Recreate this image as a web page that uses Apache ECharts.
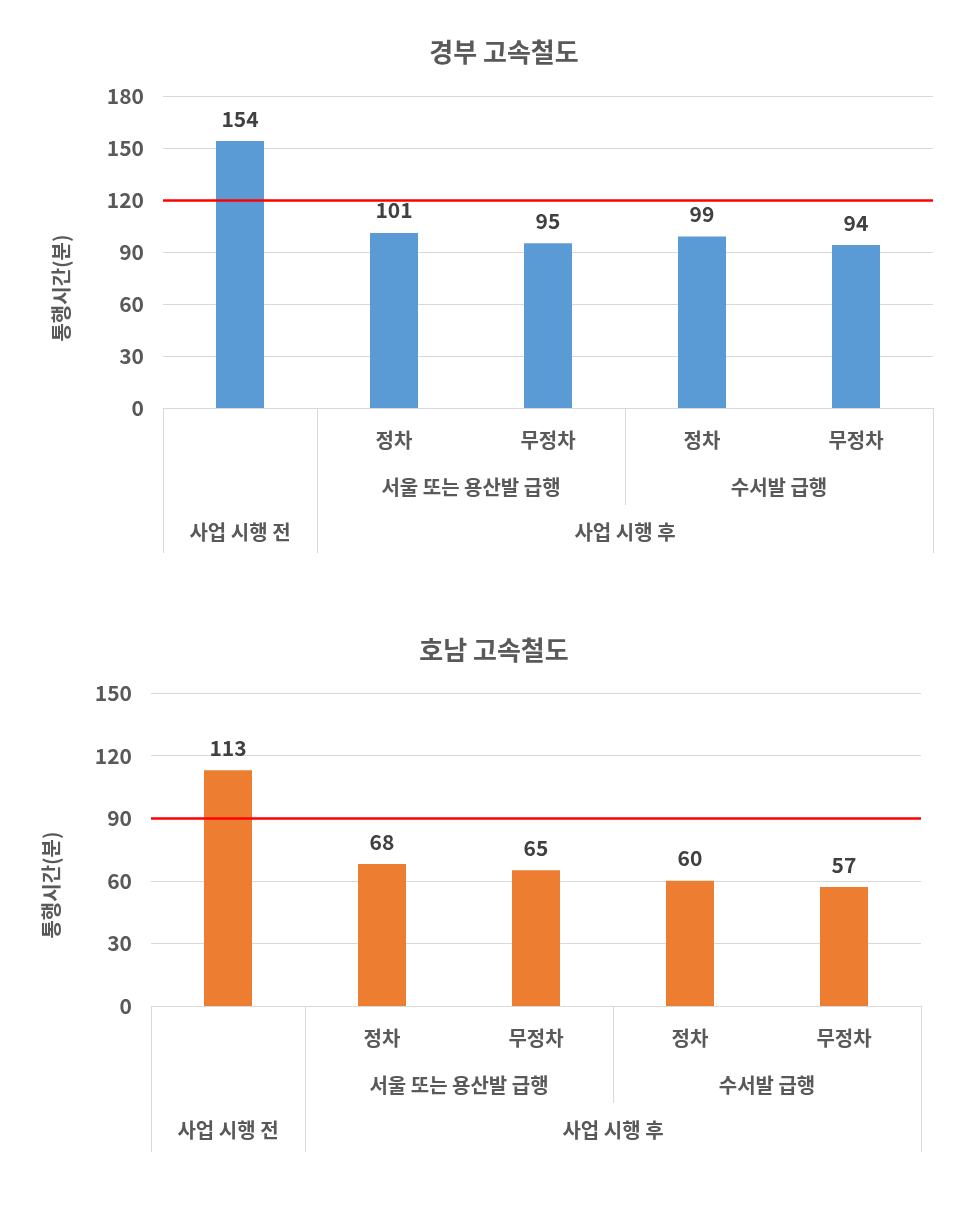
<!DOCTYPE html>
<html>
<head>
<meta charset="utf-8">
<script src="https://cdn.jsdelivr.net/npm/echarts@6/dist/echarts.min.js"></script>
<style>
html,body{margin:0;padding:0;background:#fff;}
#c{width:956px;height:1205px;}
</style>
</head>
<body>
<div id="c"></div>
<script>
const categories = ['', '정차', '무정차', '정차', '무정차'];
const groupLabels = ['서울 또는 용산발 급행', '수서발 급행'];
const phaseLabels = ['사업 시행 전', '사업 시행 후'];
const gyeongbuValues = [154, 101, 95, 99, 94];
const honamValues = [113, 68, 65, 60, 57];
const gyeongbuThreshold = 120;
const honamThreshold = 90;
const titles = ['경부 고속철도', '호남 고속철도'];
const yName = '통행시간(분)';

// hierarchy: group spans (category index ranges)
const groupSpans = [[1, 2], [3, 4]];   // 서울/용산발, 수서발
const phaseSpans = [[0, 0], [1, 4]];   // 시행 전, 시행 후

const FONT = '"Noto Sans CJK KR", "Noto Sans", sans-serif';
const TXT = '#595959';
const GRID_LINE = '#d9d9d9';
const CAT_FS = 20;
const NUM_FS = 21;

const groupCenters = groupSpans.map(s => (s[0] + s[1] + 1) / 2);
const phaseCenters = phaseSpans.map(s => (s[0] + s[1] + 1) / 2);
const fullDividers = [0].concat(phaseSpans.map(s => s[1] + 1));
const midDividers = groupSpans.slice(0, -1).map(s => s[1] + 1);

function labelMap(centers, labels) {
  return function (v) {
    for (let i = 0; i < centers.length; i++) {
      if (Math.abs(v - centers[i]) < 1e-6) return labels[i];
    }
    return '';
  };
}

const grids = [
  { left: 163, right: 23, top: 96, height: 312 },
  { left: 151, right: 35, top: 693, height: 313 }
];

const xAxes = [];
const yAxes = [];
const series = [];
const datasets = [
  { values: gyeongbuValues, threshold: gyeongbuThreshold, color: '#5b9bd5', max: 180, interval: 30, tickFull: 145, tickMid: 97, namePad: 72, nameGap: 92 },
  { values: honamValues, threshold: honamThreshold, color: '#ed7d31', max: 150, interval: 30, tickFull: 146, tickMid: 97, namePad: 71, nameGap: 90 }
];

datasets.forEach((d, gi) => {
  const base = xAxes.length;
  xAxes.push({
    type: 'category', gridIndex: gi, data: categories,
    axisLine: { lineStyle: { color: GRID_LINE, width: 1 } },
    axisTick: { show: false },
    axisLabel: { color: TXT, fontFamily: FONT, fontWeight: 'bold', fontSize: CAT_FS, margin: 22, interval: 0 }
  });
  xAxes.push({
    type: 'value', gridIndex: gi, min: 0, max: categories.length, position: 'bottom',
    axisLine: { show: false }, splitLine: { show: false },
    axisTick: { show: true, customValues: fullDividers, length: d.tickFull, lineStyle: { color: GRID_LINE, width: 1 } },
    axisLabel: { show: true, customValues: phaseCenters, formatter: labelMap(phaseCenters, phaseLabels),
      color: TXT, fontFamily: FONT, fontWeight: 'bold', fontSize: CAT_FS, margin: 114, hideOverlap: false }
  });
  xAxes.push({
    type: 'value', gridIndex: gi, min: 0, max: categories.length, position: 'bottom',
    axisLine: { show: false }, splitLine: { show: false },
    axisTick: { show: true, customValues: midDividers, length: d.tickMid, lineStyle: { color: GRID_LINE, width: 1 } },
    axisLabel: { show: true, customValues: groupCenters, formatter: labelMap(groupCenters, groupLabels),
      color: TXT, fontFamily: FONT, fontWeight: 'bold', fontSize: CAT_FS, margin: 69, hideOverlap: false }
  });
  yAxes.push({
    type: 'value', gridIndex: gi, min: 0, max: d.max, interval: d.interval,
    axisLine: { show: false }, axisTick: { show: false },
    splitLine: { lineStyle: { color: GRID_LINE, width: 1 } },
    axisLabel: { color: TXT, fontFamily: FONT, fontWeight: 'bold', fontSize: NUM_FS, margin: 19 },
    name: yName, nameLocation: 'middle', nameGap: d.nameGap, nameRotate: 90,
    nameTextStyle: { color: TXT, fontFamily: FONT, fontWeight: 'bold', fontSize: 20, padding: [0, d.namePad, 0, 0] }
  });
  series.push({
    type: 'bar', xAxisIndex: base, yAxisIndex: gi, data: d.values, barWidth: 48,
    itemStyle: { color: d.color },
    label: { show: true, position: 'top', distance: 12, color: '#404040', fontFamily: FONT, fontWeight: 'bold', fontSize: NUM_FS },
    markLine: {
      silent: true, symbol: 'none', z: 10,
      label: { show: false },
      lineStyle: { color: '#ff0000', type: 'solid', width: 2.5 },
      data: [{ yAxis: d.threshold }]
    }
  });
});

const chart = echarts.init(document.getElementById('c'), null, { renderer: 'canvas' });
chart.setOption({
  animation: false,
  backgroundColor: '#fff',
  title: [
    { text: titles[0], left: 499, top: 34, textAlign: 'center',
      textStyle: { color: TXT, fontFamily: FONT, fontWeight: 'bold', fontSize: 26 } },
    { text: titles[1], left: 489, top: 632, textAlign: 'center',
      textStyle: { color: TXT, fontFamily: FONT, fontWeight: 'bold', fontSize: 26 } }
  ],
  grid: grids,
  xAxis: xAxes,
  yAxis: yAxes,
  series: series
});
</script>
</body>
</html>
